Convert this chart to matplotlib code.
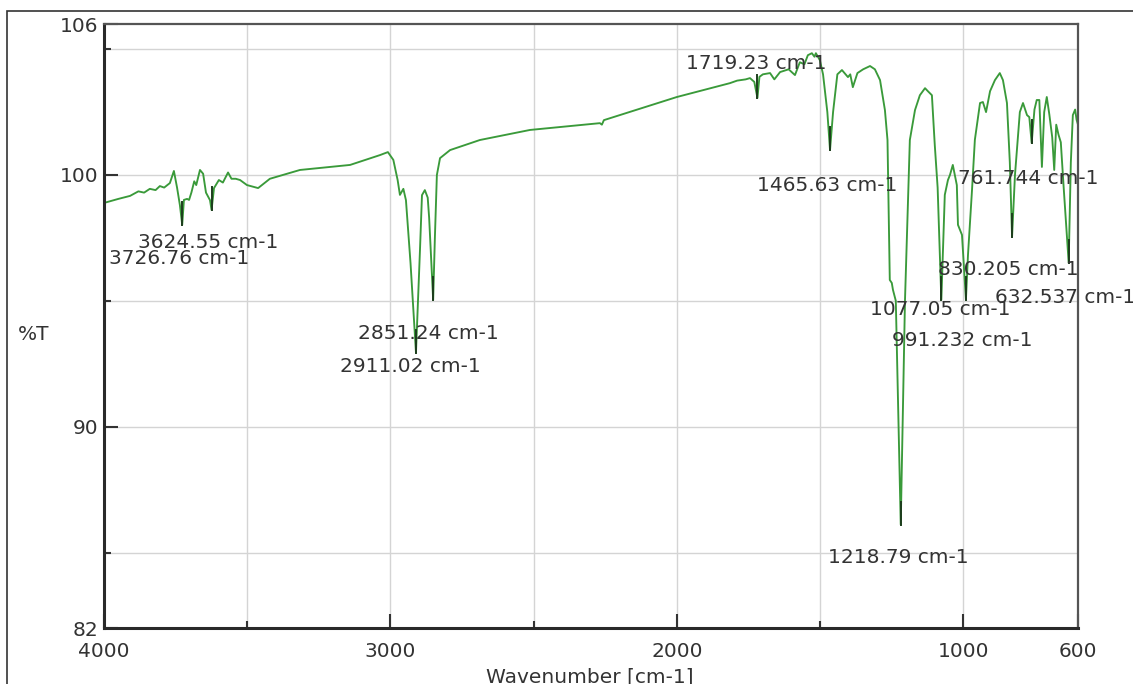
import matplotlib
matplotlib.use("Agg")
import matplotlib.pyplot as plt
from matplotlib.patches import Rectangle

# ---- data ----
wavenumber = [4000, 3950, 3909, 3880, 3860, 3840, 3820, 3805, 3790, 3770, 3756, 3745, 3735, 3727, 3721,
              3710, 3703, 3695, 3685, 3678, 3665, 3654, 3644, 3630, 3624.55, 3616, 3599, 3585, 3567,
              3555, 3540, 3525, 3501, 3462, 3421, 3316, 3141, 3037, 3009, 2990, 2975, 2967, 2955,
              2946, 2930, 2911, 2897, 2890, 2880, 2870, 2865, 2851, 2845, 2838, 2827, 2792, 2688, 2513,
              2269, 2262, 2255, 2000, 1815, 1790, 1760, 1745, 1730, 1719, 1712, 1700, 1675, 1660,
              1640, 1610, 1588, 1571, 1555, 1543, 1529, 1520, 1515, 1501, 1490, 1475, 1465.63, 1455,
              1440, 1424, 1403, 1395, 1386, 1370, 1350, 1326, 1309, 1291, 1274, 1265, 1257, 1250,
              1246, 1236, 1218.79, 1204, 1187, 1169, 1152, 1134, 1124, 1110, 1100, 1090, 1077.05,
              1065, 1054, 1047, 1037, 1023, 1019, 1005, 991.232, 984, 970, 960, 942, 932, 921, 907,
              890, 873, 862, 848, 838, 830.205, 820, 803, 792, 778, 770, 761.744, 752, 744, 735, 726,
              718, 709, 700, 690, 683, 676, 668, 660, 650, 632.537, 625, 618, 610, 605, 600]
transmittance = [98.89, 99.05, 99.17, 99.35, 99.30, 99.45, 99.40, 99.56, 99.50, 99.68, 100.16, 99.5, 98.8, 98.02, 99.01,
                 99.05, 99.01, 99.30, 99.75, 99.6, 100.20, 100.05, 99.3, 99.0, 98.61, 99.48, 99.80, 99.7, 100.10,
                 99.85, 99.85, 99.80, 99.60, 99.48, 99.85, 100.20, 100.40, 100.79, 100.91, 100.6, 99.8, 99.21, 99.45,
                 99.0, 96.5, 92.94, 97.02, 99.2, 99.4, 99.1, 98.3, 95.04, 97.5, 100.0, 100.67, 100.99, 101.39, 101.79,
                 102.06, 102.0, 102.18, 103.10, 103.65, 103.75, 103.8, 103.85, 103.7, 103.06, 103.9, 104.0, 104.05, 103.8,
                 104.09, 104.2, 103.97, 104.48, 104.4, 104.76, 104.84, 104.7, 104.84, 104.56, 104.0, 102.5, 100.99, 102.5,
                 104.0, 104.17, 103.89, 104.0, 103.49, 104.05, 104.2, 104.33, 104.2, 103.77, 102.58, 101.39, 95.83, 95.71,
                 95.44, 95.0, 86.11, 95.0, 101.39, 102.58, 103.17, 103.45, 103.33, 103.17, 101.2, 99.5, 95.04,
                 99.21, 99.80, 100.0, 100.40, 99.60, 98.02, 97.62, 95.04, 96.83, 99.40, 101.4, 102.86, 102.90, 102.50, 103.33,
                 103.77, 104.05, 103.77, 102.86, 100.5, 97.54, 100.0, 102.5, 102.86, 102.38, 102.3, 101.27, 102.6, 102.98, 102.98, 100.32,
                 102.5, 103.10, 102.4, 101.5, 100.2, 102.0, 101.6, 101.3, 99.5, 96.51, 100.5, 102.38, 102.6, 102.2, 102.0]

peak_wn = [3726.76, 3624.55, 2911.02, 2851.24, 1719.23, 1465.63, 1218.79, 1077.05, 991.232, 830.205, 761.744, 632.537]
peak_T = [98.02, 98.61, 92.94, 95.04, 103.06, 100.99, 86.11, 95.04, 95.04, 97.54, 101.27, 96.51]
peak_labels = ["3726.76 cm-1", "3624.55 cm-1", "2911.02 cm-1", "2851.24 cm-1", "1719.23 cm-1",
               "1465.63 cm-1", "1218.79 cm-1", "1077.05 cm-1", "991.232 cm-1", "830.205 cm-1",
               "761.744 cm-1", "632.537 cm-1"]

x_major = [4000, 3000, 2000, 1000, 600]
x_minor = [3500, 2500, 1500]
y_major = [82, 90, 100, 106]
y_minor = [85, 95, 105]
x_grid = [3500, 3000, 2500, 2000, 1500, 1000]
y_grid = [85, 90, 95, 100, 105]

# ---- layout (pixel offsets of labels from their peaks) ----
label_offsets = [(-73, -34), (-74, -33), (-76, -14), (-75, -34), (-71, 34), (-73, -35),
                 (-73, -33), (-71, -10), (-74, -41), (-74, -33), (-74, -35), (-74, -35)]

plt.rcParams['font.family'] = ['DejaVu Sans']
W, H = 1133, 684
fig = plt.figure(figsize=(W / 100, H / 100), dpi=100)
ax = fig.add_axes([104 / W, 1 - 628 / H, (1078 - 104) / W, (628 - 24) / H])

txt = '#333333'
for g in x_grid:
    ax.axvline(g, color='#d4d4d4', lw=1.0, zorder=0)
for g in y_grid:
    ax.axhline(g, color='#d4d4d4', lw=1.0, zorder=0)

ax.plot(wavenumber, transmittance, color='#3a9a3a', lw=1.35, zorder=2,
        solid_joinstyle='round')

for wn, t, lab, off in zip(peak_wn, peak_T, peak_labels, label_offsets):
    ax.plot([wn, wn], [t, t + 0.9], color='#1d3d1d', lw=1.4, zorder=3)
    ax.annotate(lab, xy=(wn, t), xytext=off, textcoords='offset pixels',
                ha='left', va='center', fontsize=14.5, color=txt, zorder=4,
                annotation_clip=False)

ax.set_xlim(4000, 600)
ax.set_ylim(82, 106)
ax.set_xticks(x_major)
ax.set_xticks(x_minor, minor=True)
ax.set_yticks(y_major)
ax.set_yticks(y_minor, minor=True)
ax.tick_params(axis='both', which='major', direction='in', length=10, width=1.5,
               labelsize=14.5, labelcolor=txt, color='#333333')
ax.tick_params(axis='both', which='minor', direction='in', length=5, width=1.5, color='#333333')
ax.tick_params(axis='x', which='major', pad=10)
ax.tick_params(axis='y', which='major', pad=4)

for side in ['left', 'bottom']:
    ax.spines[side].set_linewidth(2.2)
    ax.spines[side].set_color('#2a2a2a')
for side in ['top', 'right']:
    ax.spines[side].set_linewidth(1.6)
    ax.spines[side].set_color('#555555')

fig.text(18 / W, 1 - 335 / H, '%T', ha='left', va='center', fontsize=14.5, color=txt)
fig.text(590 / W, 1 - 677 / H, 'Wavenumber [cm-1]', ha='center', va='center', fontsize=14.5, color=txt)

# outer frame
fig.patches.append(Rectangle((7 / W, -0.1), 1.2, 1 - 11 / H + 0.1, transform=fig.transFigure,
                             fill=False, edgecolor='#333333', lw=1.2))

fig.savefig('out.png', dpi=100)
